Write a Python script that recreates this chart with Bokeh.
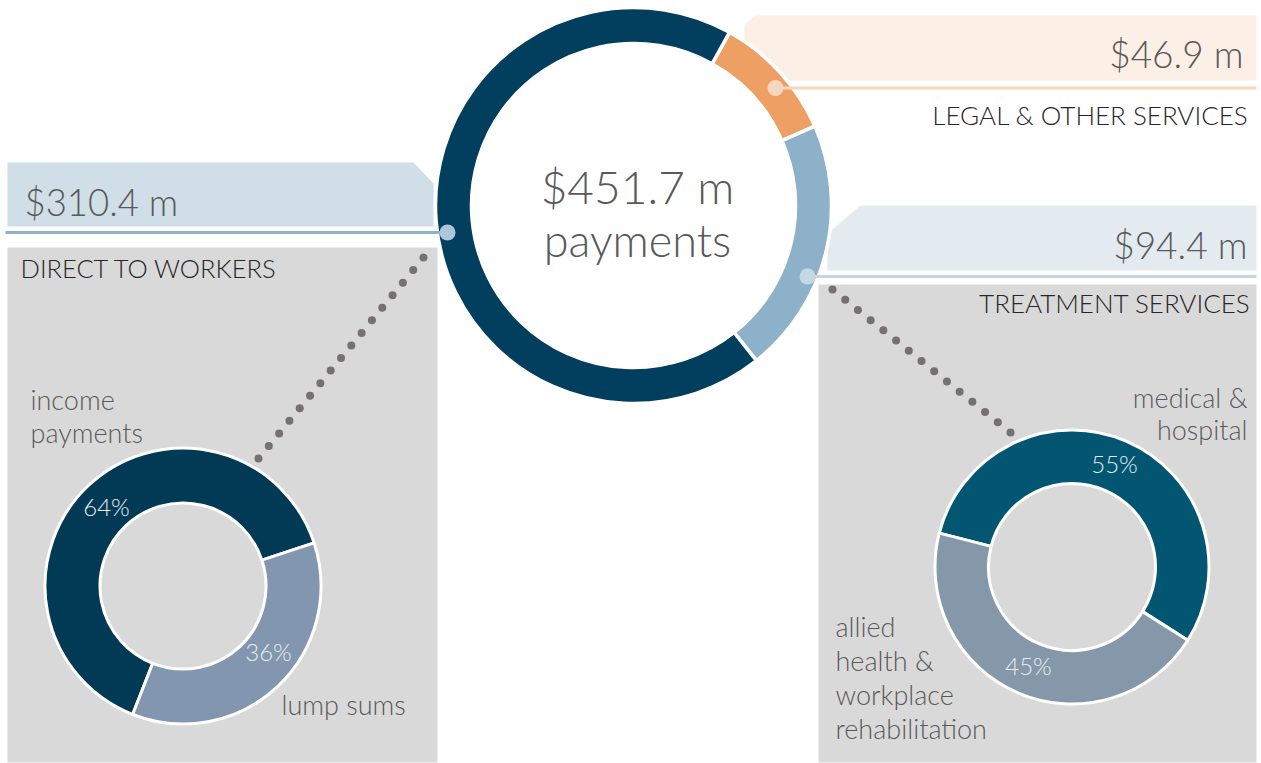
import math
import numpy as np
from bokeh.plotting import figure
from bokeh.models import Range1d, ColumnDataSource
from bokeh.core.properties import value
from bokeh.embed import file_html
from bokeh.resources import INLINE

# ---------------- data ----------------
main_categories = ["LEGAL & OTHER SERVICES", "TREATMENT SERVICES", "DIRECT TO WORKERS"]
main_values = [46.9, 94.4, 310.4]          # $ million
main_colors = ["#ee9f63", "#8eb1ca", "#023e5e"]
center_caption = "payments"

direct_categories = ["income\npayments", "lump sums"]
direct_shares = [64, 36]
direct_colors = ["#023a56", "#8396af"]

treatment_categories = ["medical &\nhospital", "allied\nhealth &\nworkplace\nrehabilitation"]
treatment_shares = [55, 45]
treatment_colors = ["#025672", "#8598aa"]

# ---------------- layout helpers (reference pixel -> data) ----------------
W, H = 1261, 763
def X(px):
    return px
def Y(py):
    return H - py

FONT = value("Lato Light, Lato")
TXT = "#595959"
HEAD = "#262626"

p = figure(width=W, height=H, x_range=Range1d(0, W), y_range=Range1d(0, H),
           output_backend="svg", toolbar_location=None, min_border=0)
p.axis.visible = False
p.xgrid.visible = False
p.ygrid.visible = False
p.outline_line_color = None
p.background_fill_color = "white"
p.border_fill_color = "white"

# grey panels
p.patch([X(7), X(437), X(437), X(7)], [Y(247), Y(247), Y(762), Y(762)],
        fill_color="#d9d9d9", line_color=None)
p.patch([X(818), X(1256), X(1256), X(818)], [Y(284), Y(284), Y(762), Y(762)],
        fill_color="#d9d9d9", line_color=None)

# label bands
p.patch([X(7), X(413), X(433), X(433), X(7)], [Y(162), Y(162), Y(183), Y(226), Y(226)],
        fill_color="#d0dee8", line_color=None)
p.patch([X(754), X(1256), X(1256), X(744), X(744)], [Y(15), Y(15), Y(80), Y(80), Y(25)],
        fill_color="#fcefe6", line_color=None)
p.patch([X(860), X(1256), X(1256), X(827), X(827)], [Y(205), Y(205), Y(270), Y(270), Y(233)],
        fill_color="#e3ebf1", line_color=None)


def donut(cx, cy, r_in, r_out, values, colors, start_cw_deg, lw):
    vals = np.array(values, dtype=float)
    frac = vals / vals.sum()
    cum = np.concatenate([[0], np.cumsum(frac)]) * 360.0
    th0 = start_cw_deg + cum[:-1]
    th1 = start_cw_deg + cum[1:]
    # clockwise-from-top -> anticlockwise-from-x (radians)
    start = np.radians(90 - th1)
    end = np.radians(90 - th0)
    src = ColumnDataSource(dict(start=start, end=end, color=colors))
    p.annular_wedge(x=X(cx), y=Y(cy), inner_radius=r_in, outer_radius=r_out,
                    start_angle="start", end_angle="end", fill_color="color",
                    line_color="white", line_width=lw, source=src)


# main donut
donut(633, 205, 162, 198, main_values, main_colors, 29.0, 3.5)

# leader lines and dots
p.line([X(5), X(447)], [Y(232), Y(232)], line_color="#8fb1c9", line_width=3)
p.line([X(775), X(1256)], [Y(87.5), Y(87.5)], line_color="#f7d6be", line_width=3)
p.line([X(807), X(1256)], [Y(276), Y(276)], line_color="#c5d6e3", line_width=3)
p.scatter([X(447), X(775), X(807)], [Y(232), Y(87.5), Y(276)], size=16,
          fill_color=["#adc7da", "#f6d6bf", "#c7d8e5"], line_color=None)

# dotted connectors
n1 = 17
p.scatter(np.linspace(X(423), X(258), n1), np.linspace(Y(257), Y(458), n1), size=8,
          fill_color="#767171", line_color=None)
n2 = 15
p.scatter(np.linspace(X(832), X(1010), n2), np.linspace(Y(289), Y(432), n2), size=8,
          fill_color="#767171", line_color=None)

# small donuts
donut(182.5, 585.5, 83, 138, direct_shares, direct_colors, 201.4, 3)
donut(1071.5, 566.5, 83.5, 137, treatment_shares, treatment_colors, 284.3, 3)

DY = -3  # baseline correction for the font


def text(x, y, s, size, color=TXT, align="left"):
    p.text(x=[X(x)], y=[Y(y + DY)], text=[s], text_font=FONT, text_font_size=f"{size}px",
           text_color=color, text_align=align, text_baseline="middle")


def lines(x, y0, s, size, step, color=TXT, align="left"):
    for i, ln in enumerate(s.split("\n")):
        text(x, y0 + i * step, ln, size, color, align)


total = sum(main_values)
legal, treat, direct = main_values

# main values
text(24, 204, f"${direct:.1f} m", 36.5)
text(1243, 56, f"${legal:.1f} m", 37, align="right")
text(1247, 247, f"${treat:.1f} m", 37, align="right")
# headings
text(20, 270, main_categories[2], 25.5, HEAD)
text(1248, 117, main_categories[0], 26, HEAD, align="right")
text(1250, 305, main_categories[1], 26, HEAD, align="right")
# centre
text(637, 189, f"${total:.1f} m", 46, align="center")
text(637, 242, center_caption, 45, align="center")

# small donut labels
lines(30, 402, direct_categories[0], 27, 33)
lines(281, 707, direct_categories[1], 27, 33)
lines(1247, 400, treatment_categories[0], 27, 32, align="right")
lines(835, 629, treatment_categories[1], 27, 34)

PCT = "#e6ecf1"
text(106, 509, f"{direct_shares[0]}%", 24, PCT, "center")
text(268, 654, f"{direct_shares[1]}%", 24, PCT, "center")
text(1114, 466, f"{treatment_shares[0]}%", 24, PCT, "center")
text(1028, 668, f"{treatment_shares[1]}%", 24, PCT, "center")

open("out.html", "w").write(file_html(p, INLINE))
